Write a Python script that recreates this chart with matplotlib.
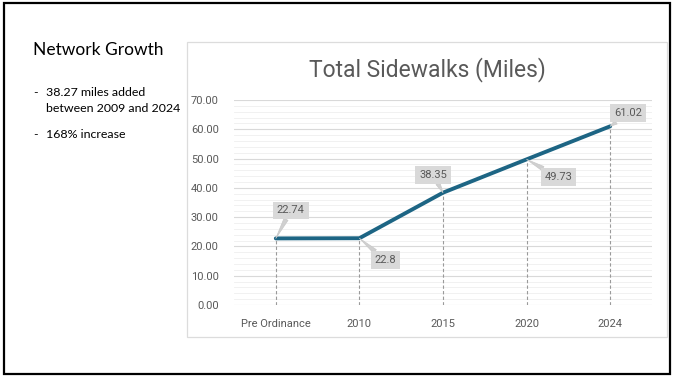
import matplotlib.pyplot as plt
from matplotlib.patches import Rectangle

categories = ["Pre Ordinance", "2010", "2015", "2020", "2024"]
miles = [22.74, 22.8, 38.35, 49.73, 61.02]
label_texts = ["22.74", "22.8", "38.35", "49.73", "61.02"]
y_ticks = [0, 10, 20, 30, 40, 50, 60, 70]

# callout offsets in pixels (dx, dy) from each point
label_offsets = [(15, 28), (26, -22), (-10, 18), (32, -18), (18, 13)]

bullets = ["38.27 miles added", "between 2009 and 2024", "168% increase"]

GREY = "#595959"
LINE = "#1d6584"

fig = plt.figure(figsize=(6.73, 3.77), dpi=100)
fig.patch.set_facecolor("white")

# outer slide border
fig.patches.append(Rectangle((4 / 673, 3 / 377), 666 / 673, 371 / 377,
                             transform=fig.transFigure, fill=False,
                             edgecolor="black", linewidth=1.6))
# chart panel
fig.patches.append(Rectangle((187 / 673, 1 - 337 / 377), 480 / 673, 295 / 377,
                             transform=fig.transFigure, fill=False,
                             edgecolor="#dcdcdc", linewidth=0.9))

# left text
fig.text(33 / 673, 1 - 50 / 377, "Network Growth", fontsize=12.5,
         family="Lato", va="center", ha="left", color="black")
fs = 8.9
fig.text(33 / 673, 1 - 96 / 377, "-", fontsize=fs, family="Lato", va="baseline")
fig.text(46 / 673, 1 - 96 / 377, bullets[0], fontsize=fs, family="Lato", va="baseline")
fig.text(46 / 673, 1 - 112 / 377, bullets[1], fontsize=fs, family="Lato", va="baseline")
fig.text(33 / 673, 1 - 138 / 377, "-", fontsize=fs, family="Lato", va="baseline")
fig.text(46 / 673, 1 - 138 / 377, bullets[2], fontsize=fs, family="Lato", va="baseline")

fig.text(427 / 673, 1 - 70 / 377, "Total Sidewalks (Miles)", fontsize=16.5,
         family="Roboto", color=GREY, ha="center", va="center")

ax = fig.add_axes([234 / 673, 1 - 305 / 377, 418 / 673, 205 / 377])
x = list(range(len(categories)))
ax.set_xlim(-0.5, len(categories) - 0.5)
ax.set_ylim(0, 70)

ax.set_yticks(y_ticks)
ax.set_yticklabels([f"{v:.2f}" for v in y_ticks], fontsize=8,
                   color=GREY, family="Roboto")
ax.set_yticks([v for v in range(0, 71, 2) if v % 10], minor=True)
ax.set_xticks(x)
ax.set_xticklabels(categories, fontsize=8, color=GREY, family="Roboto")
ax.tick_params(axis="both", which="both", length=0)
ax.tick_params(axis="y", pad=11)
ax.tick_params(axis="x", pad=10)

ax.grid(axis="y", which="major", color="#d9d9d9", linewidth=0.8)
ax.grid(axis="y", which="minor", color="#efefef", linewidth=0.6)
ax.set_axisbelow(True)
for s in ax.spines.values():
    s.set_visible(False)

ax.vlines(x, 0, miles, colors="#9a9a9a", linestyles=(0, (3, 2)), linewidth=0.8)
ax.plot(x, miles, color=LINE, linewidth=2.8, solid_capstyle="round", zorder=3)

for xi, yi, txt, off in zip(x, miles, label_texts, label_offsets):
    ax.annotate(txt, xy=(xi, yi), xytext=off, textcoords="offset pixels",
                ha="center", va="center", fontsize=8, color=GREY,
                family="Roboto", zorder=4,
                bbox=dict(boxstyle="square,pad=0.35", fc="#d9d9d9", ec="none"),
                arrowprops=dict(arrowstyle="wedge,tail_width=0.4", fc="#d0d0d0",
                                ec="#c8c8c8", lw=0.5, shrinkA=0, shrinkB=0))

fig.savefig("out.png", dpi=100)
